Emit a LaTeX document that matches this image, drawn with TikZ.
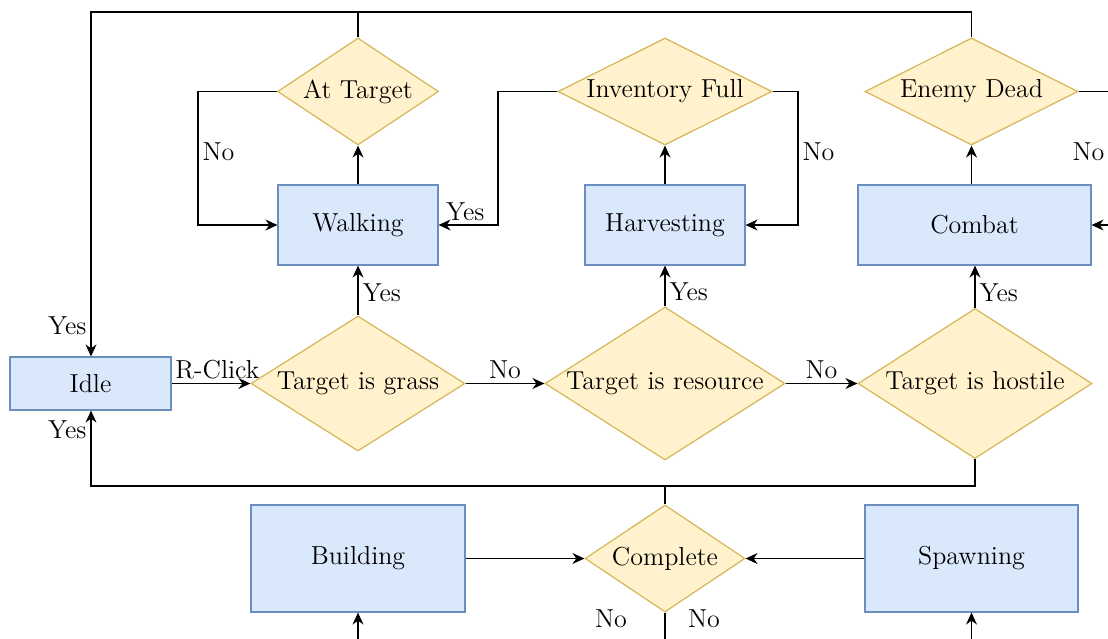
\documentclass[tikz,border=0pt]{standalone}
\usetikzlibrary{shapes.geometric,arrows.meta}
\definecolor{bfill}{HTML}{DAE8FC}
\definecolor{bline}{HTML}{6C8EBF}
\definecolor{yfill}{HTML}{FFF2CC}
\definecolor{yline}{HTML}{D6B656}
\tikzset{
  statebox/.style={rectangle, draw=bline, fill=bfill, line width=0.6pt, inner sep=0pt, font=\fontsize{13}{15}\selectfont},
  decbox/.style={diamond, draw=yline, fill=yfill, line width=0.6pt, inner sep=0pt, font=\fontsize{13}{15}\selectfont},
  conn/.style={line width=0.55pt, draw=black},
  arr/.style={conn, -{Stealth[length=6pt,width=5.5pt,inset=2pt]}},
  lbl/.style={font=\fontsize{13}{15}\selectfont, inner sep=2pt},
}
\newcommand{\dtext}[1]{\makebox[0pt][c]{#1}}
\begin{document}
\begin{tikzpicture}[x=0.5pt,y=-0.5pt]
\useasboundingbox (0,0) rectangle (1108,638);
\clip (0,0) rectangle (1108,638);
\fill[white] (0,0) rectangle (1108,638);
% states
\node[statebox, minimum width=80.5pt, minimum height=26.5pt] (idle) at (90.5,383.5) {Idle};
\node[statebox, minimum width=80pt, minimum height=40pt] (walk) at (358,225) {Walking};
\node[statebox, minimum width=80pt, minimum height=40pt] (harv) at (665,225) {Harvesting};
\node[statebox, minimum width=116.5pt, minimum height=40pt] (comb) at (974.5,225) {Combat};
\node[statebox, minimum width=107pt, minimum height=53.5pt] (build) at (358,558.5) {Building};
\node[statebox, minimum width=106.5pt, minimum height=53.5pt] (spawn) at (971.5,558.5) {Spawning};
% decisions
\node[decbox, minimum width=107pt, minimum height=67.5pt] (grass) at (358,383.5) {\dtext{Target is grass}};
\node[decbox, minimum width=120pt, minimum height=76.5pt] (res) at (665,383.5) {\dtext{Target is resource}};
\node[decbox, minimum width=117pt, minimum height=75pt] (host) at (975,383.5) {\dtext{Target is hostile}};
\node[decbox, minimum width=80.5pt, minimum height=53.5pt] (attgt) at (358,91.5) {\dtext{At Target}};
\node[decbox, minimum width=107pt, minimum height=53.5pt] (inv) at (665,91.5) {\dtext{Inventory Full}};
\node[decbox, minimum width=106.5pt, minimum height=53.5pt] (edead) at (971.5,91.5) {\dtext{Enemy Dead}};
\node[decbox, minimum width=80pt, minimum height=53.5pt] (comp) at (665,558.5) {\dtext{Complete}};
% main row
\draw[arr] (idle.east) -- node[lbl, above, pos=0.58]{R-Click} (grass.west);
\draw[arr] (grass.east) -- node[lbl, above]{No} (res.west);
\draw[arr] (res.east) -- node[lbl, above]{No} (host.west);
\draw[arr] (grass.north) -- node[lbl, right, pos=0.45]{Yes} (walk.south);
\draw[arr] (res.north) -- node[lbl, right, pos=0.35]{Yes} (harv.south);
\draw[arr] (host.north) -- node[lbl, right, pos=0.35]{Yes} (host.north |- comb.south);
% up to decisions
\draw[arr] (walk.north) -- (attgt.south);
\draw[arr] (harv.north) -- (inv.south);
\draw[arr] (comb.north -| edead.south) -- (edead.south);
% loops
\draw[arr] (attgt.west) -- (198,91.5) -- node[lbl, right, pos=0.45]{No} (198,225) -- (walk.west);
\draw[arr] (inv.west) -- (498,91.5) -- (498,225) -- node[lbl, above, pos=0.55]{Yes} (walk.east);
\draw[arr] (inv.east) -- (798,91.5) -- node[lbl, right, pos=0.45]{No} (798,225) -- (harv.east);
\draw[arr] (edead.east) -- (1117,91.5) -- node[lbl, left, pos=0.45, xshift=-4pt]{No} (1117,225) -- (comb.east);
% back to idle
\draw[arr] (attgt.north) -- (358,12) -- (91,12) -- node[lbl, left, pos=0.91]{Yes} (idle.north -| 91,0);
\draw[conn] (edead.north) -- (971.5,12) -- (358,12);
\draw[arr] (host.south) -- (975,486) -- (91,486) -- node[lbl, left, pos=0.74]{Yes} (idle.south -| 91,0);
\draw[conn] (comp.north) -- (665,486);
% bottom
\draw[arr] (build.east) -- (comp.west);
\draw[arr] (spawn.west) -- (comp.east);
\draw[arr] (comp.south) -- node[lbl, pos=0.07, xshift=-27pt]{No} node[lbl, pos=0.07, xshift=19.5pt]{No} (665,700) -| (build.south);
\draw[arr] (comp.south) -- (665,700) -| (spawn.south);
\end{tikzpicture}
\end{document}
